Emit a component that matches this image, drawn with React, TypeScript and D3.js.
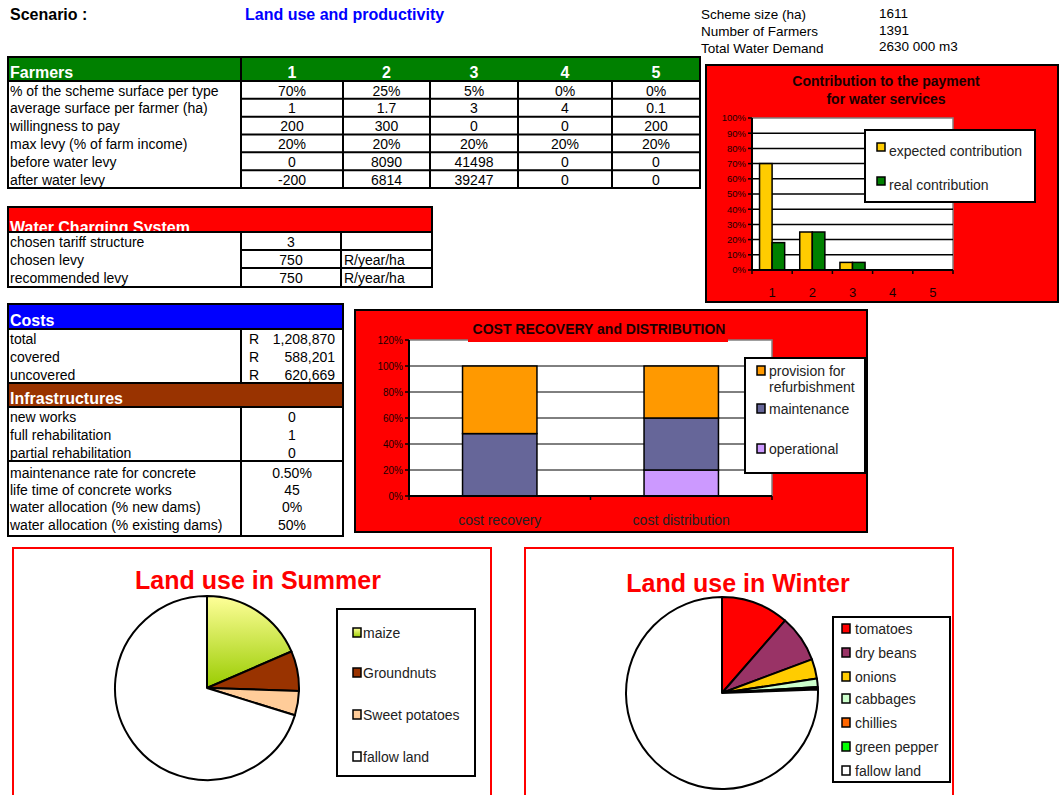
import * as d3 from 'd3';

const FONT = '"Liberation Sans", Arial, Helvetica, sans-serif';

// header
const scenarioTitle = 'Land use and productivity';
const schemeLabels = ['Scheme size (ha)', 'Number of Farmers', 'Total Water Demand'];
const schemeValues = ['1611', '1391', '2630 000 m3'];

// farmers table
const farmerTypes = ['1', '2', '3', '4', '5'];
const farmerLabels = [
  '% of the scheme surface per type',
  'average surface per farmer (ha)',
  'willingness to pay',
  'max levy (% of farm income)',
  'before water levy',
  'after water levy',
];
const farmerValues = [
  ['70%', '25%', '5%', '0%', '0%'],
  ['1', '1.7', '3', '4', '0.1'],
  ['200', '300', '0', '0', '200'],
  ['20%', '20%', '20%', '20%', '20%'],
  ['0', '8090', '41498', '0', '0'],
  ['-200', '6814', '39247', '0', '0'],
];

// water charging system
const waterLabels = ['chosen tariff structure', 'chosen levy', 'recommended levy'];
const waterValues = ['3', '750', '750'];
const waterUnits = ['', 'R/year/ha', 'R/year/ha'];

// costs + infrastructures
const costLabels = ['total', 'covered', 'uncovered'];
const costValues = ['1,208,870', '588,201', '620,669'];
const infraLabels = ['new works', 'full rehabilitation', 'partial rehabilitation'];
const infraValues = ['0', '1', '0'];
const paramLabels = [
  'maintenance rate for concrete',
  'life time of concrete works',
  'water allocation (% new dams)',
  'water allocation (% existing dams)',
];
const paramValues = ['0.50%', '45', '0%', '50%'];

// contribution chart
const contribCategories = ['1', '2', '3', '4', '5'];
const expectedContribution = [70, 25, 5, 0, 0];
const realContribution = [18, 25, 5, 0, 0];
const contribTicks = [0, 10, 20, 30, 40, 50, 60, 70, 80, 90, 100];

// cost recovery chart
const costCategories = ['cost recovery', 'cost distribution'];
const operationalShare = [0, 0.2];
const maintenanceShare = [0.48, 0.4];
const provisionShare = [0.52, 0.4];
const costTicks = [0, 0.2, 0.4, 0.6, 0.8, 1.0, 1.2];

// land use pies
const summerCrops = ['maize', 'Groundnuts', 'Sweet potatoes', 'fallow land'];
const summerShares = [18.5, 7, 4.3, 70.2];
const summerColors = ['url(#maizeGrad)', '#993300', '#FFCC99', '#FFFFFF'];

const winterCrops = ['tomatoes', 'dry beans', 'onions', 'cabbages', 'chillies', 'green pepper', 'fallow land'];
const winterShares = [11.4, 7.9, 3.3, 1.4, 0.2, 0.2, 75.6];
const winterColors = ['#FF0000', '#993366', '#FFCC00', '#CCFFCC', '#FF6600', '#00FF00', '#FFFFFF'];

const Txt = (p: any) => <text fontFamily={FONT} {...p} />;

const CELL = 14;
const HEAD = 16;

function FarmersTable() {
  const left = 8, right = 700, top = 57, headBottom = 81, bottom = 188;
  const edges = [241, 343, 430, 518, 612, 700];
  const rowH = (bottom - headBottom) / farmerLabels.length;
  return (
    <g>
      <rect x={left} y={top} width={right - left} height={bottom - top} fill="#fff" />
      <rect x={left} y={top} width={right - left} height={headBottom - top} fill="#008000" />
      <Txt x={10} y={78} fontSize={HEAD} fontWeight="bold" fill="#fff">Farmers</Txt>
      {farmerTypes.map((t, i) => (
        <Txt key={t} x={(edges[i] + edges[i + 1]) / 2} y={78} fontSize={HEAD} fontWeight="bold" fill="#fff" textAnchor="middle">{t}</Txt>
      ))}
      {farmerLabels.map((l, r) => (
        <g key={l}>
          <Txt x={10} y={headBottom + r * rowH + 14.5} fontSize={CELL} fill="#000">{l}</Txt>
          {farmerValues[r].map((v, c) => (
            <Txt key={c} x={(edges[c] + edges[c + 1]) / 2} y={headBottom + r * rowH + 14.5} fontSize={CELL} fill="#000" textAnchor="middle">{v}</Txt>
          ))}
          {r > 0 && <line x1={edges[0]} x2={right} y1={headBottom + r * rowH} y2={headBottom + r * rowH} stroke="#000" strokeWidth={2} />}
        </g>
      ))}
      <line x1={left} x2={right} y1={headBottom} y2={headBottom} stroke="#000" strokeWidth={2} />
      <line x1={edges[0]} x2={edges[0]} y1={top} y2={bottom} stroke="#000" strokeWidth={2} />
      {edges.slice(1, -1).map((e) => (
        <line key={e} x1={e} x2={e} y1={headBottom} y2={bottom} stroke="#000" strokeWidth={2} />
      ))}
      <rect x={left} y={top} width={right - left} height={bottom - top} fill="none" stroke="#000" strokeWidth={2} />
    </g>
  );
}

function WaterTable() {
  const left = 8, right = 432, top = 207, headBottom = 232, bottom = 287;
  const edges = [241, 341, 430];
  const rowH = 18;
  return (
    <g>
      <defs>
        <clipPath id="waterHead"><rect x={left} y={top} width={right - left} height={headBottom - top} /></clipPath>
      </defs>
      <rect x={left} y={top} width={right - left} height={bottom - top} fill="#fff" />
      <rect x={left} y={top} width={right - left} height={headBottom - top} fill="#FF0000" />
      <Txt x={10} y={233} fontSize={HEAD} fontWeight="bold" fill="#fff" clipPath="url(#waterHead)">Water Charging System</Txt>
      {waterLabels.map((l, r) => (
        <g key={l}>
          <Txt x={10} y={headBottom + r * rowH + 15} fontSize={CELL}>{l}</Txt>
          <Txt x={(edges[0] + edges[1]) / 2} y={headBottom + r * rowH + 15} fontSize={CELL} textAnchor="middle">{waterValues[r]}</Txt>
          <Txt x={edges[1] + 3} y={headBottom + r * rowH + 15} fontSize={CELL}>{waterUnits[r]}</Txt>
          {r > 0 && <line x1={edges[0]} x2={right} y1={headBottom + r * rowH} y2={headBottom + r * rowH} stroke="#000" strokeWidth={2} />}
        </g>
      ))}
      <line x1={left} x2={right} y1={headBottom} y2={headBottom} stroke="#000" strokeWidth={2} />
      <line x1={edges[0]} x2={edges[0]} y1={headBottom} y2={bottom} stroke="#000" strokeWidth={2} />
      <line x1={edges[1]} x2={edges[1]} y1={headBottom} y2={bottom} stroke="#000" strokeWidth={2} />
      <rect x={left} y={top} width={right - left} height={bottom - top} fill="none" stroke="#000" strokeWidth={2} />
    </g>
  );
}

function CostsTable() {
  const left = 8, right = 343, top = 304, bottom = 536, split = 241;
  const rowH = 18;
  const costHead = [304, 329];
  const infraHead = [383, 407];
  const paramTop = 462;
  const center = (split + right) / 2;
  return (
    <g>
      <rect x={left} y={top} width={right - left} height={bottom - top} fill="#fff" />
      <rect x={left} y={costHead[0]} width={right - left} height={costHead[1] - costHead[0]} fill="#0000FF" />
      <Txt x={10} y={326} fontSize={HEAD} fontWeight="bold" fill="#fff">Costs</Txt>
      {costLabels.map((l, r) => (
        <g key={l}>
          <Txt x={10} y={costHead[1] + r * rowH + 14.5} fontSize={CELL}>{l}</Txt>
          <Txt x={249} y={costHead[1] + r * rowH + 14.5} fontSize={CELL}>R</Txt>
          <Txt x={335} y={costHead[1] + r * rowH + 14.5} fontSize={CELL} textAnchor="end">{costValues[r]}</Txt>
        </g>
      ))}
      <rect x={left} y={infraHead[0]} width={right - left} height={infraHead[1] - infraHead[0]} fill="#993300" />
      <Txt x={10} y={404} fontSize={HEAD} fontWeight="bold" fill="#fff">Infrastructures</Txt>
      {infraLabels.map((l, r) => (
        <g key={l}>
          <Txt x={10} y={infraHead[1] + r * rowH + 14.5} fontSize={CELL}>{l}</Txt>
          <Txt x={center} y={infraHead[1] + r * rowH + 14.5} fontSize={CELL} textAnchor="middle">{infraValues[r]}</Txt>
        </g>
      ))}
      {paramLabels.map((l, r) => (
        <g key={l}>
          <Txt x={10} y={paramTop + r * rowH + 15.5 - r * 0.6} fontSize={CELL}>{l}</Txt>
          <Txt x={center} y={paramTop + r * rowH + 15.5 - r * 0.6} fontSize={CELL} textAnchor="middle">{paramValues[r]}</Txt>
        </g>
      ))}
      <line x1={left} x2={right} y1={costHead[1]} y2={costHead[1]} stroke="#000" strokeWidth={2} />
      <line x1={left} x2={right} y1={infraHead[0]} y2={infraHead[0]} stroke="#000" strokeWidth={2} />
      <line x1={left} x2={right} y1={infraHead[1]} y2={infraHead[1]} stroke="#000" strokeWidth={2} />
      <line x1={left} x2={right} y1={paramTop - 1} y2={paramTop - 1} stroke="#000" strokeWidth={2} />
      <line x1={split} x2={split} y1={costHead[1]} y2={infraHead[0]} stroke="#000" strokeWidth={2} />
      <line x1={split} x2={split} y1={infraHead[1]} y2={bottom} stroke="#000" strokeWidth={2} />
      <rect x={left} y={top} width={right - left} height={bottom - top} fill="none" stroke="#000" strokeWidth={2} />
    </g>
  );
}

function ContributionChart() {
  const plot = { x0: 752, x1: 953, y0: 118, y1: 270 };
  const x = d3.scaleBand().domain(contribCategories).range([plot.x0, plot.x1]);
  const xs = d3.scaleBand().domain(['expected', 'real']).range([0, x.bandwidth()]).paddingOuter(0.6);
  const y = d3.scaleLinear().domain([0, 100]).range([plot.y1, plot.y0]);
  const series = [
    { key: 'expected', values: expectedContribution, color: '#FFCC00', label: 'expected contribution' },
    { key: 'real', values: realContribution, color: '#008000', label: 'real contribution' },
  ];
  const boundaries = [...contribCategories.map((c) => x(c)!), plot.x1];
  return (
    <g>
      <rect x={706} y={65} width={352} height={237} fill="#FF0000" stroke="#000" strokeWidth={2} />
      <Txt x={886} y={86} fontSize={14} fontWeight="bold" textAnchor="middle" fill="#1a0000">Contribution to the payment</Txt>
      <Txt x={886} y={104} fontSize={14} fontWeight="bold" textAnchor="middle" fill="#1a0000">for water services</Txt>
      <rect x={plot.x0} y={plot.y0} width={plot.x1 - plot.x0} height={plot.y1 - plot.y0} fill="#fff" stroke="#808080" strokeWidth={1.5} />
      {contribTicks.map((t) => (
        <g key={t}>
          {t > 0 && t < 100 && <line x1={plot.x0} x2={plot.x1} y1={y(t)} y2={y(t)} stroke="#000" strokeWidth={1.5} />}
          <line x1={plot.x0 - 4} x2={plot.x0} y1={y(t)} y2={y(t)} stroke="#000" strokeWidth={1.5} />
          <Txt x={plot.x0 - 6} y={y(t) + 3.3} fontSize={9.5} textAnchor="end" fill="#1a0000">{t}%</Txt>
        </g>
      ))}
      {series.map((s) =>
        contribCategories.map((c, i) => (
          s.values[i] > 0 ? (
            <rect key={s.key + c} x={x(c)! + xs(s.key)!} y={y(s.values[i])} width={xs.bandwidth()} height={y(0) - y(s.values[i])}
              fill={s.color} stroke="#000" strokeWidth={1.5} />
          ) : null
        ))
      )}
      <line x1={plot.x0} x2={plot.x0} y1={plot.y0} y2={plot.y1} stroke="#000" strokeWidth={2} />
      <line x1={plot.x0} x2={plot.x1} y1={plot.y1} y2={plot.y1} stroke="#000" strokeWidth={2} />
      {boundaries.map((b) => (
        <line key={b} x1={b} x2={b} y1={plot.y1} y2={plot.y1 + 4} stroke="#000" strokeWidth={1.5} />
      ))}
      {contribCategories.map((c) => (
        <Txt key={c} x={x(c)! + x.bandwidth() / 2} y={297} fontSize={13} textAnchor="middle" fill="#1a0000">{c}</Txt>
      ))}
      <rect x={865} y={130} width={170} height={72} fill="#fff" stroke="#000" strokeWidth={2} />
      {series.map((s, i) => (
        <g key={s.key}>
          <rect x={877} y={147 + i * 34 - 4} width={8} height={8} fill={s.color} stroke="#000" strokeWidth={1.5} />
          <Txt x={889} y={151 + i * 34 + 5} fontSize={14} fill="#222">{s.label}</Txt>
        </g>
      ))}
    </g>
  );
}

function CostChart() {
  const plot = { x0: 409, x1: 772, y0: 340, y1: 496 };
  const x = d3.scaleBand().domain(costCategories).range([plot.x0, plot.x1]).paddingInner(0.59).paddingOuter(0.295);
  const y = d3.scaleLinear().domain([0, 1.2]).range([plot.y1, plot.y0]);
  const rows = costCategories.map((c, i) => ({
    cat: c, operational: operationalShare[i], maintenance: maintenanceShare[i], provision: provisionShare[i],
  }));
  const keys = ['operational', 'maintenance', 'provision'];
  const colors: Record<string, string> = { operational: '#CC99FF', maintenance: '#666699', provision: '#FF9900' };
  const stacked = d3.stack<any>().keys(keys)(rows);
  const mid = (plot.x0 + plot.x1) / 2;
  return (
    <g>
      <rect x={355} y={310} width={512} height={222} fill="#FF0000" stroke="#000" strokeWidth={2} />
      <rect x={plot.x0} y={plot.y0} width={plot.x1 - plot.x0} height={plot.y1 - plot.y0} fill="#fff" stroke="#808080" strokeWidth={1.5} />
      {costTicks.map((t) => (
        <g key={t}>
          {t > 0 && t < 1.2 && <line x1={plot.x0} x2={plot.x1} y1={y(t)} y2={y(t)} stroke="#000" strokeWidth={1} />}
          <line x1={plot.x0 - 4} x2={plot.x0} y1={y(t)} y2={y(t)} stroke="#000" strokeWidth={1.5} />
          <Txt x={plot.x0 - 6} y={y(t) + 3.5} fontSize={10} textAnchor="end" fill="#1a0000">{Math.round(t * 100)}%</Txt>
        </g>
      ))}
      {stacked.map((layer) =>
        layer.map((d, i) => (
          d[1] - d[0] > 0 ? (
            <rect key={layer.key + i} x={x(costCategories[i])} y={y(d[1])} width={x.bandwidth()} height={y(d[0]) - y(d[1])}
              fill={colors[layer.key]} stroke="#000" strokeWidth={1.5} />
          ) : null
        ))
      )}
      <line x1={plot.x0} x2={plot.x0} y1={plot.y0} y2={plot.y1} stroke="#000" strokeWidth={2} />
      <line x1={plot.x0} x2={plot.x1} y1={plot.y1} y2={plot.y1} stroke="#000" strokeWidth={2} />
      {[plot.x0, mid, plot.x1].map((b) => (
        <line key={b} x1={b} x2={b} y1={plot.y1} y2={plot.y1 + 4} stroke="#000" strokeWidth={1.5} />
      ))}
      {costCategories.map((c) => (
        <Txt key={c} x={x(c)! + x.bandwidth() / 2} y={525} fontSize={14} textAnchor="middle" fill="#222">{c}</Txt>
      ))}
      <rect x={468} y={313} width={260} height={29} fill="#FF0000" />
      <Txt x={599} y={334} fontSize={14} fontWeight="bold" textAnchor="middle" fill="#1a0000">COST RECOVERY and DISTRIBUTION</Txt>
      <rect x={745} y={358} width={120} height={115} fill="#fff" stroke="#000" strokeWidth={2} />
      <rect x={757} y={366} width={8} height={9} fill={colors.provision} stroke="#000" strokeWidth={1.5} />
      <Txt x={769} y={376} fontSize={14} fill="#222">provision for</Txt>
      <Txt x={769} y={392} fontSize={14} fill="#222">refurbishment</Txt>
      <rect x={757} y={404} width={8} height={9} fill={colors.maintenance} stroke="#000" strokeWidth={1.5} />
      <Txt x={769} y={414} fontSize={14} fill="#222">maintenance</Txt>
      <rect x={757} y={444} width={8} height={9} fill={colors.operational} stroke="#000" strokeWidth={1.5} />
      <Txt x={769} y={454} fontSize={14} fill="#222">operational</Txt>
    </g>
  );
}

function LandPie(props: {
  title: string; labels: string[]; values: number[]; colors: string[];
  box: [number, number]; titleX: number; titleY: number; cx: number; cy: number; r: number;
  legend: [number, number, number, number]; itemY: number[]; markerDx: number; textDx: number;
}) {
  const { title, labels, values, colors, box, titleX, titleY, cx, cy, r, legend, itemY, markerDx, textDx } = props;
  const data = labels.map((l, i) => ({ label: l, value: values[i], color: colors[i] }));
  const arcs = d3.pie<any>().sort(null).value((d) => d.value)(data);
  const arc = d3.arc<any>().innerRadius(0).outerRadius(r);
  return (
    <g>
      <rect x={box[0]} y={548} width={box[1] - box[0]} height={260} fill="#fff" stroke="#FF0000" strokeWidth={2} />
      <Txt x={titleX} y={titleY} fontSize={25} fontWeight="bold" fill="#FF0000" textAnchor="middle">{title}</Txt>
      <g transform={`translate(${cx},${cy})`}>
        {arcs.map((a, i) => (
          <path key={i} d={arc(a)!} fill={a.data.color} stroke="#000" strokeWidth={2} strokeLinejoin="round" />
        ))}
      </g>
      <rect x={legend[0]} y={legend[1]} width={legend[2] - legend[0]} height={legend[3] - legend[1]} fill="#fff" stroke="#000" strokeWidth={2} />
      {data.map((d, i) => (
        <g key={d.label}>
          <rect x={legend[0] + markerDx} y={itemY[i] - 5} width={8} height={9} fill={d.color} stroke="#000" strokeWidth={1.5} />
          <Txt x={legend[0] + textDx} y={itemY[i] + 5} fontSize={14} fill="#222">{d.label}</Txt>
        </g>
      ))}
    </g>
  );
}

export default function App() {
  return (
    <svg width={1060} height={795} viewBox="0 0 1060 795" style={{ position: 'absolute', left: 0, top: 0, background: '#fff' }}>
      <defs>
        <linearGradient id="maizeGrad" x1="0" y1="0" x2="0" y2="1">
          <stop offset="0%" stopColor="#FFFF99" />
          <stop offset="100%" stopColor="#99CC00" />
        </linearGradient>
      </defs>
      <rect x={0} y={0} width={1060} height={795} fill="#fff" />
      <Txt x={10} y={20} fontSize={16} fontWeight="bold">Scenario :</Txt>
      <Txt x={245} y={20} fontSize={16} fontWeight="bold" fill="#0000FF">{scenarioTitle}</Txt>
      {schemeLabels.map((l, i) => (
        <g key={l}>
          <Txt x={701} y={19 + i * 17} fontSize={13.5}>{l}</Txt>
          <Txt x={879} y={18 + i * 16.5} fontSize={13.5}>{schemeValues[i]}</Txt>
        </g>
      ))}
      <FarmersTable />
      <WaterTable />
      <CostsTable />
      <ContributionChart />
      <CostChart />
      <LandPie title="Land use in Summer" labels={summerCrops} values={summerShares} colors={summerColors}
        box={[13, 491]} titleX={258} titleY={589} cx={207} cy={688} r={92}
        legend={[337, 609, 475, 776]} itemY={[633, 673, 715, 757]} markerDx={16} textDx={26} />
      <LandPie title="Land use in Winter" labels={winterCrops} values={winterShares} colors={winterColors}
        box={[525, 953]} titleX={738} titleY={592} cx={722} cy={693} r={96}
        legend={[833, 617, 950, 782]} itemY={[629, 653, 677, 699, 723, 747, 771]} markerDx={9} textDx={22} />
    </svg>
  );
}
